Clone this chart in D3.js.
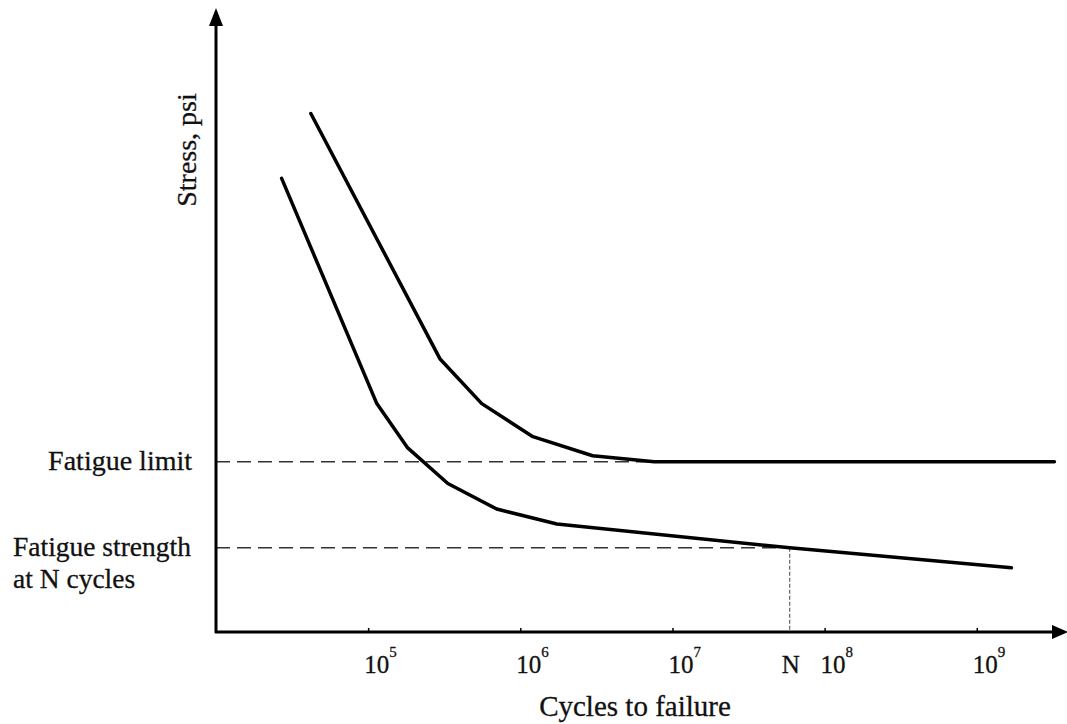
<!DOCTYPE html>
<html>
<head>
<meta charset="utf-8">
<script src="https://cdn.jsdelivr.net/npm/d3@7"></script>
<style>
  body { margin: 0; background: #fff; }
  text { font-family: "Liberation Serif", "Times New Roman", serif; fill: #111; stroke: #111; stroke-width: 0.3px; }
</style>
</head>
<body>
<div id="chart"></div>
<script>
const canvWidth = 1067, canvHeight = 724;

// cycles to failure / stress (arbitrary units)
const upperCycles = [4.2e4, 2.96e5, 5.58e5, 1.21e6, 2.99e6, 7.6e6, 3.24e9];
const upperStress = [83.1, 43.8, 36.6, 31.3, 28.25, 27.3, 27.3];
const lowerCycles = [2.7e4, 1.14e5, 1.82e5, 3.34e5, 7.0e5, 1.74e6, 5.9e7, 1.69e9];
const lowerStress = [72.7, 36.6, 29.5, 23.8, 19.7, 17.3, 13.5, 10.3];

const tickExponents = [5, 6, 7, 8, 9];
const fatigueLimit = 27.3;
const fatigueStrength = 13.5;
const nCycles = 5.9e7;

const svg = d3.select('#chart')
    .append('svg')
    .attr('width', canvWidth)
    .attr('height', canvHeight);

const xScale = d3.scaleLog()
    .domain([1e4, Math.pow(10, 9.58)])
    .range([216, 1065]);

const yScale = d3.scaleLinear()
    .domain([0, 100])
    .range([632, 8]);

const x0 = xScale(1e4), y0 = yScale(0);

// dashed reference lines
svg.append('line')
    .attr('x1', x0).attr('x2', xScale(7.6e6))
    .attr('y1', yScale(fatigueLimit)).attr('y2', yScale(fatigueLimit))
    .attr('stroke', '#333').attr('stroke-width', 1.5)
    .attr('stroke-dasharray', '14,7');

svg.append('line')
    .attr('x1', x0).attr('x2', xScale(nCycles))
    .attr('y1', yScale(fatigueStrength)).attr('y2', yScale(fatigueStrength))
    .attr('stroke', '#333').attr('stroke-width', 1.5)
    .attr('stroke-dasharray', '14,7');

svg.append('line')
    .attr('x1', xScale(nCycles)).attr('x2', xScale(nCycles))
    .attr('y1', yScale(fatigueStrength)).attr('y2', y0)
    .attr('stroke', '#444').attr('stroke-width', 1)
    .attr('stroke-dasharray', '4,2');

// curves
const line = d3.line()
    .x(d => xScale(d[0]))
    .y(d => yScale(d[1]));

svg.append('path')
    .datum(d3.zip(upperCycles, upperStress))
    .attr('d', line)
    .attr('fill', 'none')
    .attr('stroke', '#000')
    .attr('stroke-width', 3.5)
    .attr('stroke-linejoin', 'round')
    .attr('stroke-linecap', 'round');

svg.append('path')
    .datum(d3.zip(lowerCycles, lowerStress))
    .attr('d', line)
    .attr('fill', 'none')
    .attr('stroke', '#000')
    .attr('stroke-width', 3.5)
    .attr('stroke-linejoin', 'round')
    .attr('stroke-linecap', 'round');

// x axis with small tick marks at decades
const xAxis = svg.append('g')
    .attr('transform', `translate(0,${y0})`)
    .call(d3.axisBottom(xScale)
        .tickValues(tickExponents.map(e => Math.pow(10, e)))
        .tickSize(-4)
        .tickSizeOuter(0)
        .tickFormat(''));
xAxis.select('.domain').remove();
xAxis.selectAll('.tick line').attr('stroke', '#000').attr('stroke-width', 1.5);

svg.append('line')
    .attr('x1', x0 - 1).attr('x2', 1056)
    .attr('y1', y0).attr('y2', y0)
    .attr('stroke', '#000').attr('stroke-width', 3);

svg.append('line')
    .attr('x1', x0).attr('x2', x0)
    .attr('y1', y0 + 1).attr('y2', 22)
    .attr('stroke', '#000').attr('stroke-width', 3);

// arrow heads
svg.append('path')
    .attr('d', `M${x0},8 L${x0 - 7},26 L${x0 + 7},26 Z`)
    .attr('fill', '#000');
svg.append('path')
    .attr('d', `M1068,${y0} L1052,${y0 - 7} L1052,${y0 + 7} Z`)
    .attr('fill', '#000');

// tick labels 10^n
const tickLabels = svg.append('g')
    .selectAll('text')
    .data(tickExponents)
    .enter()
    .append('text')
    .attr('x', d => xScale(Math.pow(10, d)) - 4)
    .attr('y', 673)
    .style('font-size', '25px');
tickLabels.append('tspan').text('10');
tickLabels.append('tspan')
    .attr('dy', -16)
    .attr('dx', 0)
    .style('font-size', '15px')
    .text(d => d);

svg.append('text')
    .attr('x', xScale(nCycles) + 1)
    .attr('y', 673)
    .style('text-anchor', 'middle')
    .style('font-size', '25px')
    .text('N');

// axis titles
svg.append('text')
    .attr('x', 635)
    .attr('y', 716)
    .style('text-anchor', 'middle')
    .style('font-size', '29px')
    .text('Cycles to failure');

svg.append('text')
    .attr('transform', 'translate(196,150) rotate(-90)')
    .style('text-anchor', 'middle')
    .style('font-size', '28px')
    .text('Stress, psi');

// reference line labels
svg.append('text')
    .attr('x', 192)
    .attr('y', 470)
    .style('text-anchor', 'end')
    .style('font-size', '28px')
    .text('Fatigue limit');

svg.append('text')
    .attr('x', 13)
    .attr('y', 556)
    .style('font-size', '27.5px')
    .text('Fatigue strength');

svg.append('text')
    .attr('x', 13)
    .attr('y', 588)
    .style('font-size', '27.5px')
    .text('at N cycles');
</script>
</body>
</html>
